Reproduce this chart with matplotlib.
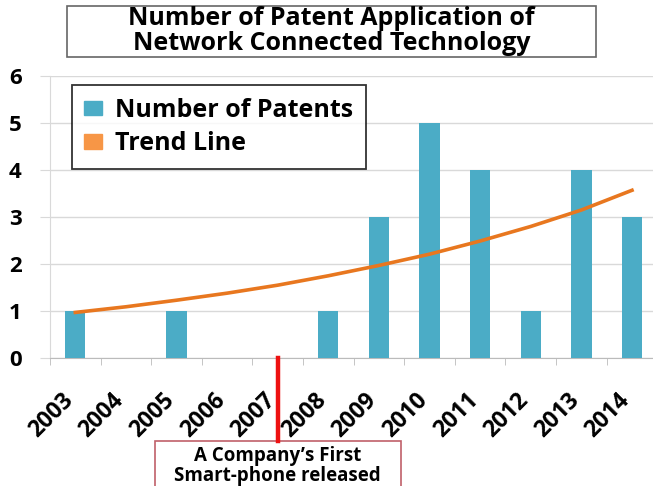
import numpy as np
import matplotlib.pyplot as plt
import matplotlib.transforms as mtransforms
from matplotlib.patches import Patch, Rectangle

years = ['2003', '2004', '2005', '2006', '2007', '2008', '2009', '2010', '2011', '2012', '2013', '2014']
patents = [1, 0, 1, 0, 0, 1, 3, 5, 4, 1, 4, 3]
trend = [0.97, 1.09, 1.23, 1.38, 1.55, 1.75, 1.97, 2.21, 2.49, 2.80, 3.15, 3.57]
release_year = '2007'

bar_color = '#4BACC6'
line_color = '#E8771F'
grid_color = '#D9D9D9'

plt.rcParams['font.family'] = ['Open Sans', 'DejaVu Sans']
plt.rcParams['font.weight'] = 'bold'

fig = plt.figure(figsize=(6.53, 4.86), dpi=100)
ax = fig.add_axes([0.0766, 0.2634, 0.930, 0.580])

x = np.arange(len(years))
ax.bar(x, patents, width=0.4, color=bar_color, zorder=3)
ax.plot(x, trend, color=line_color, lw=2.6, zorder=4)

ax.set_xlim(-0.5, len(years) - 0.5)
ax.set_ylim(0, 6)
ax.set_yticks(range(7))
ax.set_yticklabels([str(v) for v in range(7)], fontsize=16, fontweight='bold')
# year labels sit a bit left of each category centre, as in the original
ax.set_xticks(x - 0.28)
ax.set_xticklabels(years, rotation=45, ha='right', va='top', rotation_mode='anchor',
                   fontsize=16.5, fontweight='bold')
ax.set_xticks(np.arange(-0.5, len(years), 1), minor=True)
ax.tick_params(axis='x', which='major', length=0, pad=22)
ax.tick_params(axis='x', which='minor', length=5, color='#BBBBBB')
ax.tick_params(axis='y', length=7.5, color=grid_color, pad=13)
ax.grid(axis='y', color=grid_color, lw=1, zorder=0)
for s in ['top', 'right']:
    ax.spines[s].set_visible(False)
ax.spines['left'].set_color(grid_color)
ax.spines['bottom'].set_color('#BBBBBB')

handles = [Patch(color=bar_color, label='Number of Patents'),
           Patch(color='#F79646', label='Trend Line')]
leg = ax.legend(handles=handles, loc='upper left', bbox_to_anchor=(0.036, 0.968),
                prop={'weight': 'bold', 'size': 18}, frameon=True, fancybox=False,
                handlelength=0.72, handleheight=0.5, handletextpad=0.5,
                borderpad=0.5, labelspacing=0.35, borderaxespad=0)
leg.get_frame().set_edgecolor('black')
leg.get_frame().set_linewidth(1.3)

# title box
fig.patches.append(Rectangle((67 / 653, 1 - 57 / 486), (596 - 67) / 653, 51 / 486,
                             transform=fig.transFigure, fc='white', ec='#666666', lw=1.2))
fig.text(0.508, 1 - 31 / 486, 'Number of Patent Application of\nNetwork Connected Technology',
         ha='center', va='center', fontsize=18, fontweight='bold', linespacing=1.0)

# release marker and note box
rx = years.index(release_year)
trans = mtransforms.blended_transform_factory(ax.transData, ax.transAxes)
ax.plot([rx, rx], [0, -0.294], transform=trans, color='#EE1111', lw=3.2,
        clip_on=False, zorder=5)
ax.add_patch(Rectangle((rx - 2.43, -0.60), 4.86, 0.306, transform=trans,
                       fc='white', ec='#C0606A', lw=1.2, clip_on=False))
ax.text(rx, -0.365, 'A Company\u2019s First', transform=trans, ha='center',
        va='baseline', fontsize=13.5, fontweight='bold')
ax.text(rx, -0.437, 'Smart-phone released', transform=trans, ha='center',
        va='baseline', fontsize=13.5, fontweight='bold')

fig.savefig('out.png', dpi=100)
